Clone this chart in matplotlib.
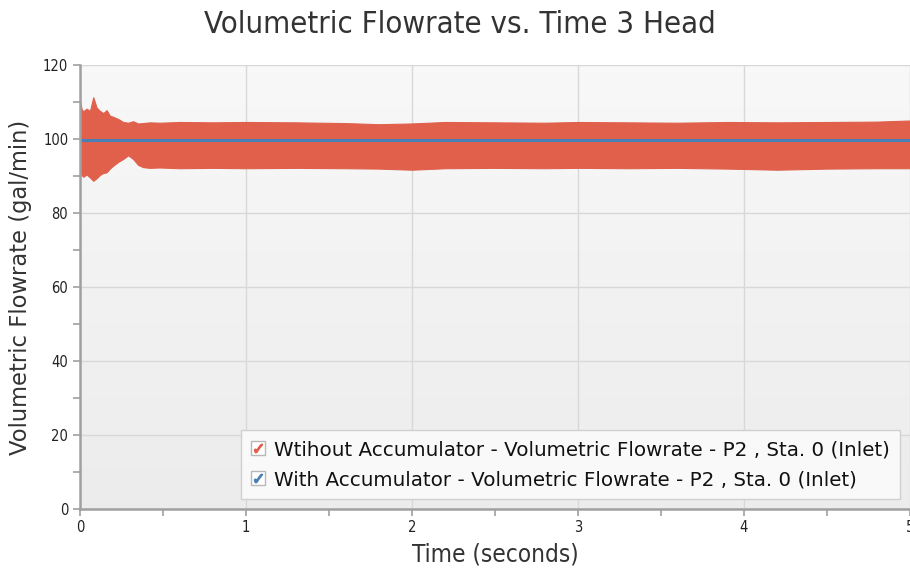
import numpy as np
import matplotlib
matplotlib.use('Agg')
import matplotlib.pyplot as plt
from matplotlib.lines import Line2D
from matplotlib.legend_handler import HandlerTuple
from matplotlib.colors import LinearSegmentedColormap

# envelope of the oscillating flow without accumulator (gal/min)
t_env = [0.0, 0.01, 0.02, 0.04, 0.06, 0.08, 0.10, 0.12, 0.14, 0.16, 0.18, 0.20,
         0.23, 0.26, 0.29, 0.32, 0.35, 0.38, 0.42, 0.48, 0.6, 0.8, 1.0, 1.3,
         1.6, 1.8, 2.0, 2.2, 2.5, 2.8, 3.0, 3.3, 3.6, 3.9, 4.2, 4.5, 4.8, 5.0]
q_upper = [110.5, 108.0, 107.5, 108.2, 107.6, 111.3, 108.5, 107.6, 107.0, 107.8, 106.3, 106.0,
           105.4, 104.6, 104.4, 104.8, 104.2, 104.3, 104.5, 104.4, 104.6, 104.5, 104.6, 104.5,
           104.3, 104.0, 104.2, 104.6, 104.5, 104.4, 104.6, 104.5, 104.4, 104.6, 104.5, 104.6, 104.7, 105.0]
q_lower = [91.5, 90.2, 89.8, 90.4, 89.6, 88.7, 89.4, 90.3, 90.8, 91.0, 92.0, 92.8,
           93.8, 94.6, 95.6, 94.6, 93.0, 92.4, 92.2, 92.3, 92.1, 92.2, 92.1, 92.2,
           92.1, 92.0, 91.7, 92.1, 92.2, 92.1, 92.2, 92.1, 92.2, 92.0, 91.7, 92.0, 92.1, 92.1]

# flow with accumulator
t_acc = [0.0, 1.0, 2.0, 3.0, 4.0, 5.0]
q_acc = [99.8, 99.8, 99.8, 99.8, 99.8, 99.8]

lbl_without = 'Wtihout Accumulator - Volumetric Flowrate - P2 , Sta. 0 (Inlet)'
lbl_with = 'With Accumulator - Volumetric Flowrate - P2 , Sta. 0 (Inlet)'

red = '#e0604b'
blue = '#4a7eb5'

fig = plt.figure(figsize=(9.1, 5.74), dpi=100)
ax = fig.add_axes([80 / 910, 1 - 509 / 574, 830 / 910, 444 / 574])

# light vertical gradient behind the plot area
bg = LinearSegmentedColormap.from_list('bg', ['#ececec', '#f8f8f8'])
ax.imshow(np.linspace(0, 1, 64).reshape(-1, 1), cmap=bg, aspect='auto',
          extent=(0, 5, 0, 120), origin='lower', zorder=0)

ax.fill_between(t_env, q_lower, q_upper, color=red, linewidth=0.8, zorder=3)
ax.plot(t_acc, q_acc, color=blue, linewidth=2.2, zorder=4)

ax.set_xlim(0, 5)
ax.set_ylim(0, 120)
ax.set_xticks(np.arange(0, 6, 1))
ax.set_xticks(np.arange(0.5, 5, 1), minor=True)
ax.set_yticks(np.arange(0, 121, 20))
ax.set_yticks(np.arange(10, 120, 20), minor=True)
ax.grid(True, which='major', color='#d8d8d8', linewidth=1.0, zorder=1)

for s in ['top', 'right']:
    ax.spines[s].set_visible(False)
for s in ['left', 'bottom']:
    ax.spines[s].set_color('#a0a0a0')
    ax.spines[s].set_linewidth(1.8)
    ax.spines[s].set_zorder(5)

ax.tick_params(which='both', direction='out', color='#a0a0a0', width=1.2, length=5,
               labelsize=10.5, labelcolor='#222222')
ax.tick_params(axis='x', pad=3)

cond = dict(family='DejaVu Sans', fontstretch='condensed')
for lab in ax.get_xticklabels() + ax.get_yticklabels():
    lab.set_fontstretch('condensed')

fig.text(0.505, 0.957, 'Volumetric Flowrate vs. Time 3 Head', ha='center', va='center',
         fontsize=22.3, color='#333333', **cond)
ax.set_xlabel('Time (seconds)', fontsize=17.5, color='#333333', labelpad=5, **cond)
ax.set_ylabel('Volumetric Flowrate (gal/min)', fontsize=16.3, color='#333333', labelpad=8,
              family='DejaVu Sans')

box = Line2D([], [], linestyle='none', marker='s', markersize=10,
             markerfacecolor='white', markeredgecolor='#b8b8b8', markeredgewidth=1.0)
chk_r = Line2D([], [], linestyle='none', marker=r'$\checkmark$', markersize=6, color=red)
chk_b = Line2D([], [], linestyle='none', marker=r'$\checkmark$', markersize=6, color=blue)
leg = ax.legend([(box, chk_r), (box, chk_b)], [lbl_without, lbl_with],
                handler_map={tuple: HandlerTuple(ndivide=1)},
                loc='lower right', bbox_to_anchor=(1.0, 0.0), borderaxespad=0.5,
                fancybox=False, framealpha=1.0, facecolor='#f9f9f9', edgecolor='#d0d0d0',
                handlelength=0.7, handletextpad=0.45, borderpad=0.5, labelspacing=0.55,
                prop=dict(family='DejaVu Sans', size=14.3))
leg.get_frame().set_linewidth(1.0)
leg.set_zorder(6)
for txt in leg.get_texts():
    txt.set_color('#111111')

fig.savefig('out.png', dpi=100)
